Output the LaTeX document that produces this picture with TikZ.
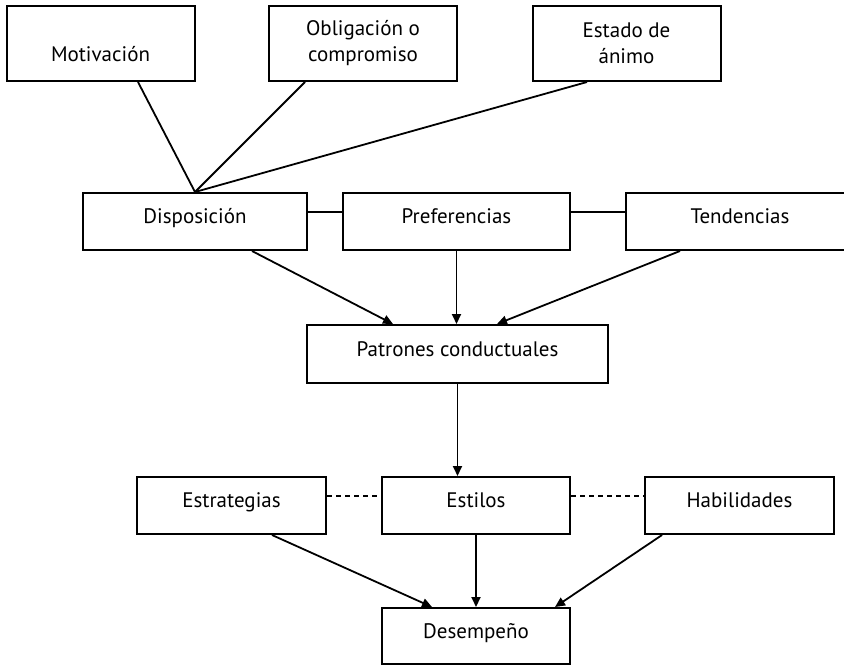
\documentclass[tikz,border=0pt]{standalone}
\usepackage{fontspec}
\setmainfont{PT Sans}
\usetikzlibrary{positioning}
\usetikzlibrary{arrows.meta}
\usetikzlibrary{calc}
\tikzset {
  % boxes
  box/.style = {draw, line width=1pt, inner sep=0pt, font=\fontsize{10.5}{13}\selectfont},
  toprow/.style = {box, minimum width=94pt, minimum height=37.5pt, align=center},
  row/.style = {box, minimum height=28.5pt, text height=7pt, text depth=5pt},
  % connectors
  link/.style = {line width=0.9pt},
  flow/.style = {line width=0.9pt, -{Triangle[length=5pt,width=4.5pt]}},
  loose/.style = {line width=0.9pt, dash pattern=on 2.5pt off 2pt},
}

\begin{document}
\begin{tikzpicture}[x=0.5pt, y=-0.5pt]
      \useasboundingbox (0,0) rectangle (844,665);

      \node[toprow] (motiv) at (100.5,43.5) {\vphantom{Ob}\\\vphantom{p}Motivación};
      \node[toprow] (oblig) at (363,43.5) {Obligación o\\compromiso};
      \node[toprow] (animo) at (626.5,43.5) {Estado de\\ánimo};

      \node[row, minimum width=112pt] (disp) at (195,221.5) {Disposición};
      \node[row, minimum width=113.5pt] (pref) at (456.5,221.5) {Preferencias};
      \node[row, minimum width=114pt] (tend) at (740,221.5) {Tendencias};

      \node[row, minimum width=150.5pt, minimum height=29pt] (patr) at (457.5,354) {Patrones conductuales};

      \node[row, minimum width=94.5pt] (estrat) at (231.5,505.5) {Estrategias};
      \node[row, minimum width=94pt] (estil) at (476,505.5) {Estilos};
      \node[row, minimum width=94.5pt] (habil) at (739.5,505.5) {Habilidades};

      \node[row, minimum width=94pt, minimum height=28pt] (desemp) at (476,636) {Desempeño};

      \draw [link] ($(motiv.south)+(37.5,0)$) -- (disp.north);
      \draw [link] ($(oblig.south)+(-58,0)$) -- (disp.north);
      \draw [link] ($(animo.south)+(-39.5,0)$) -- (disp.north);

      \draw [link] ($(disp.east)+(0,-9.5)$) -- ($(pref.west)+(0,-9.5)$);
      \draw [link] ($(pref.east)+(0,-9.5)$) -- ($(tend.west)+(0,-9.5)$);

      \draw [flow] ($(disp.south)+(57,0)$) -- ($(patr.north)+(-64.5,0)$);
      \draw [flow] (pref.south) -- (pref.south |- patr.north);
      \draw [flow] ($(tend.south)+(-60,0)$) -- ($(patr.north)+(39.5,0)$);

      \draw [flow] (patr.south) -- (patr.south |- estil.north);

      \draw [loose] ($(estrat.east)+(0,-9.5)$) -- ($(estil.west)+(0,-9.5)$);
      \draw [loose] ($(estil.east)+(0,-9.5)$) -- ($(habil.west)+(0,-9.5)$);

      \draw [flow] ($(estrat.south)+(40.5,0)$) -- ($(desemp.north)+(-44,0)$);
      \draw [flow] (estil.south) -- (desemp.north);
      \draw [flow] ($(habil.south)+(-77.5,0)$) -- ($(desemp.north)+(79,0)$);
    \end{tikzpicture}
\end{document}
